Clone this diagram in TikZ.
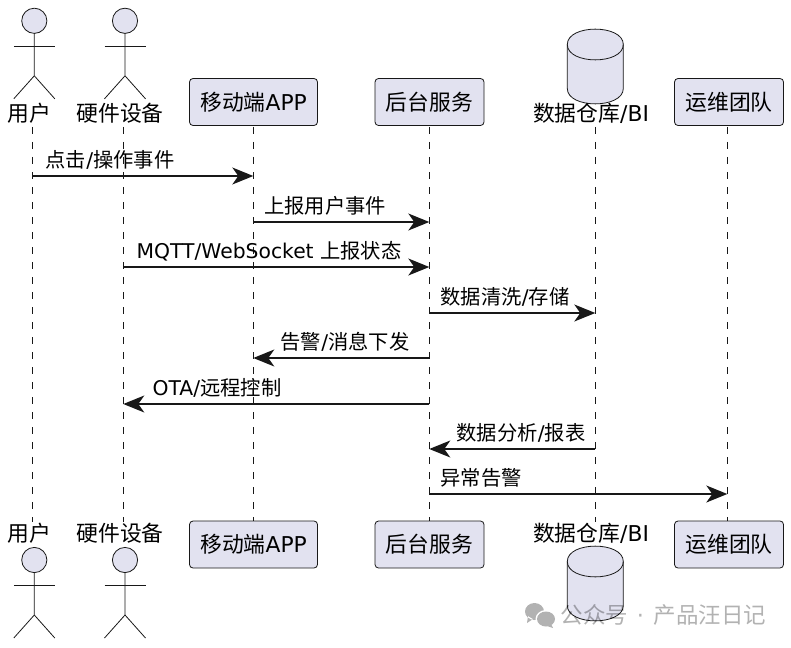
\documentclass[tikz,border=0pt]{standalone}
\usepackage{fontspec}
\usepackage{xcolor}
\usetikzlibrary{arrows.meta}
\setmainfont{DejaVu Sans}
\newfontfamily\cjk{Noto Sans CJK SC}
\definecolor{seqfill}{HTML}{E2E2F0}
\definecolor{seqline}{HTML}{181818}
\tikzset{
    lifeline/.style={seqline,line width=0.7pt,dash pattern=on 7pt off 8pt},
    msgline/.style={seqline,line width=1.3pt,-{Stealth[length=21pt,width=17pt,inset=6pt]}},
    msglabel/.style={inner sep=0pt,font=\fontsize{20.3}{22}\selectfont},
    boxnode/.style={draw=seqline,fill=seqfill,rounded corners=3.5pt,line width=0.8pt,inner sep=0pt,minimum height=47pt,font=\fontsize{21.8}{24}\selectfont},
    namelabel/.style={inner sep=0pt,font=\fontsize{21.8}{24}\selectfont},
    stick/.style={draw=seqline,line width=0.8pt},
    watermark/.style={inner sep=0pt,text=black,text opacity=0.3,font=\fontsize{22.5}{24}\selectfont}
}
\newcommand{\zh}[1]{{\cjk #1}}
\newcommand{\stickman}[2]{
    \draw[stick,fill=seqfill] (#1,#2) circle (12.6);
    \draw[stick] (#1,#2+12.6) -- (#1,#2+55) -- (#1-20.5,#2+78);
    \draw[stick] (#1,#2+55) -- (#1+20.5,#2+78);
    \draw[stick] (#1-20.5,#2+25.5) -- (#1+20.5,#2+25.5);
}
\newcommand{\barrel}[2]{
    \draw[stick,fill=seqfill] (#1-28,#2) .. controls (#1-28,#2-20.5) and (#1+28,#2-20.5) .. (#1+28,#2) -- (#1+28,#2+44) .. controls (#1+28,#2+64.5) and (#1-28,#2+64.5) .. (#1-28,#2+44) -- cycle;
    \draw[stick] (#1-28,#2) .. controls (#1-28,#2+20.5) and (#1+28,#2+20.5) .. (#1+28,#2);
}
\begin{document}
\begin{tikzpicture}[x=1pt,y=-1pt]
    \useasboundingbox (0,0) rectangle (791,647);

    % Lifelines
    \foreach \x/\name in {32.3/usr,123.3/dev,253.3/app,429.3/srv,595.3/dwh,727.3/ops} {
        \coordinate (\name T) at (\x,127);
        \coordinate (\name B) at (\x,522);
        \draw[lifeline] (\name T) -- (\name B);
    }

    % Actors and database
    \stickman{34.3}{20.8}
    \stickman{125}{20.8}
    \stickman{34.3}{560}
    \stickman{125}{560}
    \barrel{595.3}{44.5}
    \barrel{595.3}{561.5}

    % Names, top and bottom
    \foreach \y/\s in {113/T,533/B} {
        \node[namelabel] (usrname\s) at (29,\y) {\zh{用户}};
        \node[namelabel] (devname\s) at (120,\y) {\zh{硬件设备}};
        \node[namelabel] (dwhname\s) at (591,\y) {\zh{数据仓库}/BI};
    }
    \foreach \y/\s in {102/T,544.5/B} {
        \node[boxnode,minimum width=128pt] (appbox\s) at (253.5,\y) {\zh{移动端}APP};
        \node[boxnode,minimum width=109pt] (srvbox\s) at (429.5,\y) {\zh{后台服务}};
        \node[boxnode,minimum width=109pt] (opsbox\s) at (729,\y) {\zh{运维团队}};
    }

    % Messages
    \foreach \y/\from/\to/\lx/\txt [count=\i] in {
        176/usr/app/110/{\zh{点击}/\zh{操作事件}},
        222/app/srv/325/{\zh{上报用户事件}},
        267/dev/srv/269/{MQTT/WebSocket \zh{上报状态}},
        313/srv/dwh/505/{\zh{数据清洗}/\zh{存储}},
        358/srv/app/345/{\zh{告警}/\zh{消息下发}},
        404/srv/dev/217/{OTA/\zh{远程控制}},
        449/dwh/srv/521/{\zh{数据分析}/\zh{报表}},
        494/srv/ops/481/{\zh{异常告警}}} {
        \coordinate (m\i) at (0,\y);
        \draw[msgline] (\from T |- m\i) -- (\to T |- m\i);
        \node[msglabel,anchor=center] (msg\i) at (\lx,\y-16) {\txt};
    }

    % Watermark
    \fill[black,opacity=0.3] (534.5,611.5) ellipse (9.5 and 8.5) (528,616) -- (527,623) -- (533,619) -- cycle;
    \fill[white] (546,619) ellipse (10.5 and 9);
    \fill[black,opacity=0.3] (546,619) ellipse (9 and 7.5) (551,624) -- (553,628) -- (547,626) -- cycle;
    \node[watermark] (mark) at (663.5,615) {\zh{公众号}\hspace{8.5pt}·\hspace{9.5pt}\zh{产品汪日记}};
\end{tikzpicture}
\end{document}
